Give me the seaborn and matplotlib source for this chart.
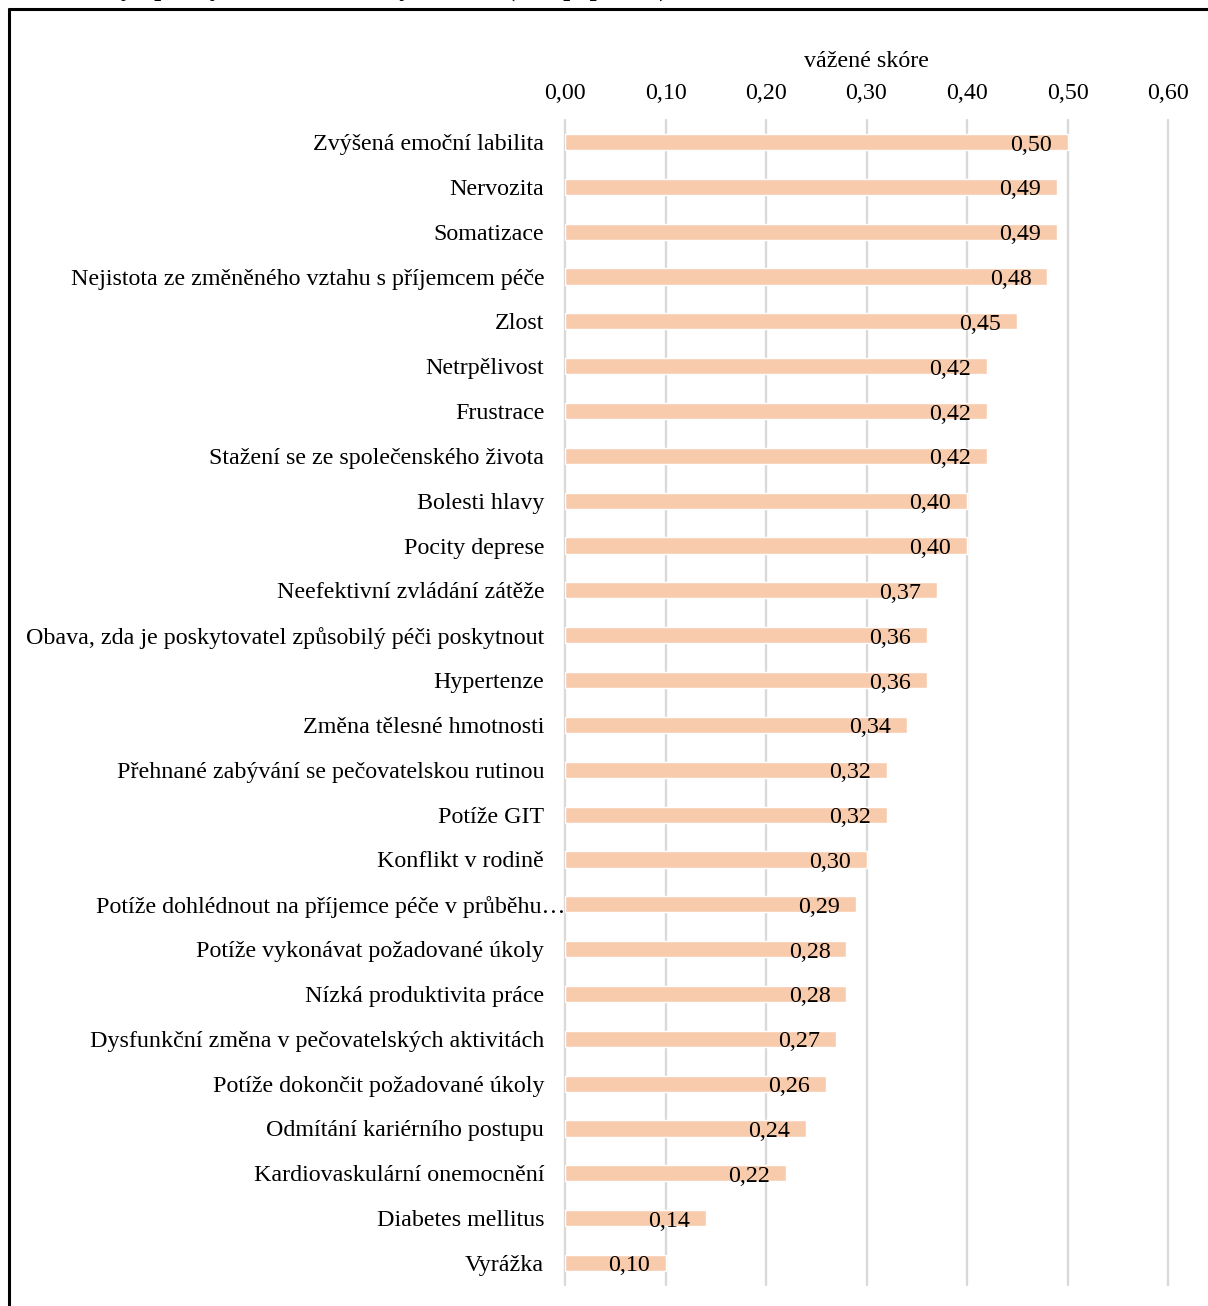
import matplotlib
matplotlib.use("Agg")
import matplotlib.pyplot as plt
import matplotlib.transforms as mtransforms
from matplotlib.lines import Line2D
from matplotlib.ticker import FuncFormatter
import seaborn as sns
import pandas as pd

categories = [
    "Zvýšená emoční labilita",
    "Nervozita",
    "Somatizace",
    "Nejistota ze změněného vztahu s příjemcem péče",
    "Zlost",
    "Netrpělivost",
    "Frustrace",
    "Stažení se ze společenského života",
    "Bolesti hlavy",
    "Pocity deprese",
    "Neefektivní zvládání zátěže",
    "Obava, zda je poskytovatel způsobilý péči poskytnout",
    "Hypertenze",
    "Změna tělesné hmotnosti",
    "Přehnané zabývání se pečovatelskou rutinou",
    "Potíže GIT",
    "Konflikt v rodině",
    "Potíže dohlédnout na příjemce péče v průběhu…",
    "Potíže vykonávat požadované úkoly",
    "Nízká produktivita práce",
    "Dysfunkční změna v pečovatelských aktivitách",
    "Potíže dokončit požadované úkoly",
    "Odmítání kariérního postupu",
    "Kardiovaskulární onemocnění",
    "Diabetes mellitus",
    "Vyrážka",
]
values = [0.50, 0.49, 0.49, 0.48, 0.45, 0.42, 0.42, 0.42, 0.40, 0.40, 0.37,
          0.36, 0.36, 0.34, 0.32, 0.32, 0.30, 0.29, 0.28, 0.28, 0.27, 0.26,
          0.24, 0.22, 0.14, 0.10]
x_ticks = [0.0, 0.1, 0.2, 0.3, 0.4, 0.5, 0.6]
x_label = "vážené skóre"
title = "Graf 12: Symptomy zátěže dle vážených skóre (celá populace)"

sns.set_style("white")
plt.rcParams["font.family"] = ["Liberation Serif", "DejaVu Serif"]
plt.rcParams["text.color"] = "black"
plt.rcParams["xtick.color"] = "black"
plt.rcParams["ytick.color"] = "black"
plt.rcParams["axes.labelcolor"] = "black"

FS = 17.3

df = pd.DataFrame({"cat": categories, "val": values})

W, H = 1208, 1306
fig = plt.figure(figsize=(W / 100, H / 100), dpi=100)
ax = fig.add_axes([565 / W, 1 - 1285.4 / H, (1168 - 565) / W, (1285.4 - 119.6) / H])

sns.barplot(data=df, x="val", y="cat", orient="h", color="#F8CBAD",
            saturation=1, width=0.36, ax=ax, zorder=3)

ax.set_xlim(0, 0.6)
ax.set_xticks(x_ticks)
ax.xaxis.tick_top()
ax.xaxis.set_label_position("top")
ax.xaxis.set_major_formatter(FuncFormatter(lambda v, p: f"{v:.2f}".replace(".", ",")))
ax.set_xlabel(x_label, fontsize=FS, labelpad=11.5)
ax.set_ylabel("")
ax.tick_params(axis="x", length=0, pad=11.5, labelsize=FS)
ax.tick_params(axis="y", length=0, pad=15, labelsize=FS)
for s in ax.spines.values():
    s.set_visible(False)
ax.grid(axis="x", color="#D9D9D9", linewidth=1.7, zorder=0)
ax.grid(axis="y", visible=False)
ax.set_axisbelow(True)
for gl in ax.get_xgridlines():
    gl.set_clip_on(False)

# long truncated label overflowing to the axis
for lbl in ax.get_yticklabels():
    if lbl.get_text().endswith("…"):
        lbl.set_transform(lbl.get_transform() +
                          mtransforms.ScaledTranslation(21 / 100, 0, fig.dpi_scale_trans))

for i, v in enumerate(values):
    ax.annotate(f"{v:.2f}".replace(".", ","), xy=(v, i), xytext=(-16, -3),
                textcoords="offset pixels", ha="right", va="center",
                fontsize=FS, zorder=5)

# frame
fig.add_artist(Line2D([9 / W, 9 / W], [0, 1 - 9 / H], color="black", lw=2.2,
                      transform=fig.transFigure))
fig.add_artist(Line2D([9 / W, 1], [1 - 9 / H, 1 - 9 / H], color="black", lw=2.2,
                      transform=fig.transFigure))
fig.text(10 / W, 1 + 4 / H, title, fontsize=18, fontweight="bold", ha="left",
         va="baseline")

fig.savefig("out.png", dpi=100)
